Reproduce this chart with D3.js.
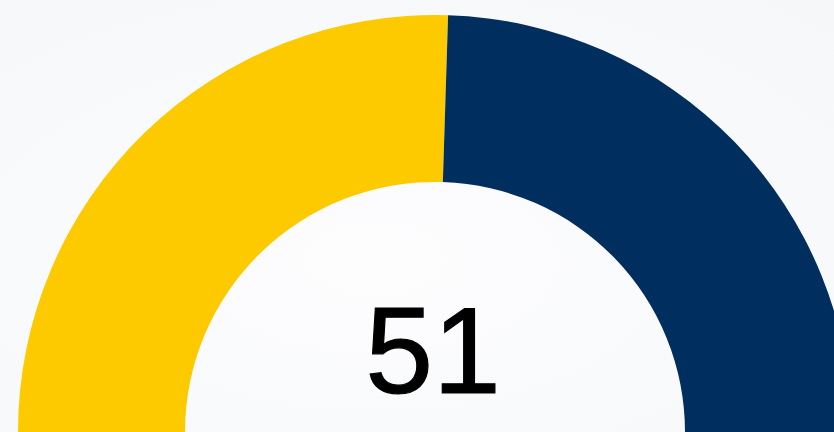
<!DOCTYPE html>
<html>
<head>
<meta charset="utf-8">
<script src="https://cdn.jsdelivr.net/npm/d3@7"></script>
<style>
  html, body { margin: 0; padding: 0; background: #fafbfc; overflow: hidden; }
</style>
</head>
<body>
<div class="chart"></div>
<script>
const WIDTH = 834;
const HEIGHT = 432;

const CX = 435;
const CY = 432;
const OUTER_R = 417;
const INNER_R = 250;

// gauge data
var segments = ['score', 'rest'];
var values = [51, 49];
var colors = ['#fdca00', '#002f5f'];
var label = '51';

var translate = function (x, y) {
    return "translate(" + x + "," + y + ")";
};

var svg = d3.select('.chart').append('svg')
    .attr('width', WIDTH)
    .attr('height', HEIGHT);

// faint background wash
var defs = svg.append('defs');
var grad = defs.append('radialGradient')
    .attr('id', 'bg')
    .attr('cx', 0.45).attr('cy', 0.6).attr('r', 0.8);
grad.append('stop').attr('offset', '0%').attr('stop-color', '#fdfdfe');
grad.append('stop').attr('offset', '100%').attr('stop-color', '#f5f7f9');

svg.append('rect')
    .attr('width', WIDTH)
    .attr('height', HEIGHT)
    .attr('fill', 'url(#bg)');

var pie = d3.pie()
    .sort(null)
    .startAngle(-Math.PI / 2)
    .endAngle(Math.PI / 2)
    .value(function (d, i) { return values[i]; });

var arc = d3.arc()
    .innerRadius(INNER_R)
    .outerRadius(OUTER_R);

var g = svg.append('g')
    .attr('transform', translate(CX, CY));

g.selectAll('path')
    .data(pie(segments))
    .enter().append('path')
    .attr('d', arc)
    .attr('fill', function (d, i) { return colors[i]; });

var txt = g.append('text')
    .attr('y', -39)
    .attr('text-anchor', 'middle')
    .style('font-family', '"Liberation Sans", Arial, sans-serif')
    .style('font-size', '122px')
    .attr('fill', '#000')
    .attr('stroke', '#000')
    .attr('stroke-width', 1.2)
    .text(label);

// centre the ink of the number on x = 433
var bb = txt.node().getBBox();
txt.attr('x', (433 - CX) - (bb.x + bb.width / 2));
</script>
</body>
</html>
